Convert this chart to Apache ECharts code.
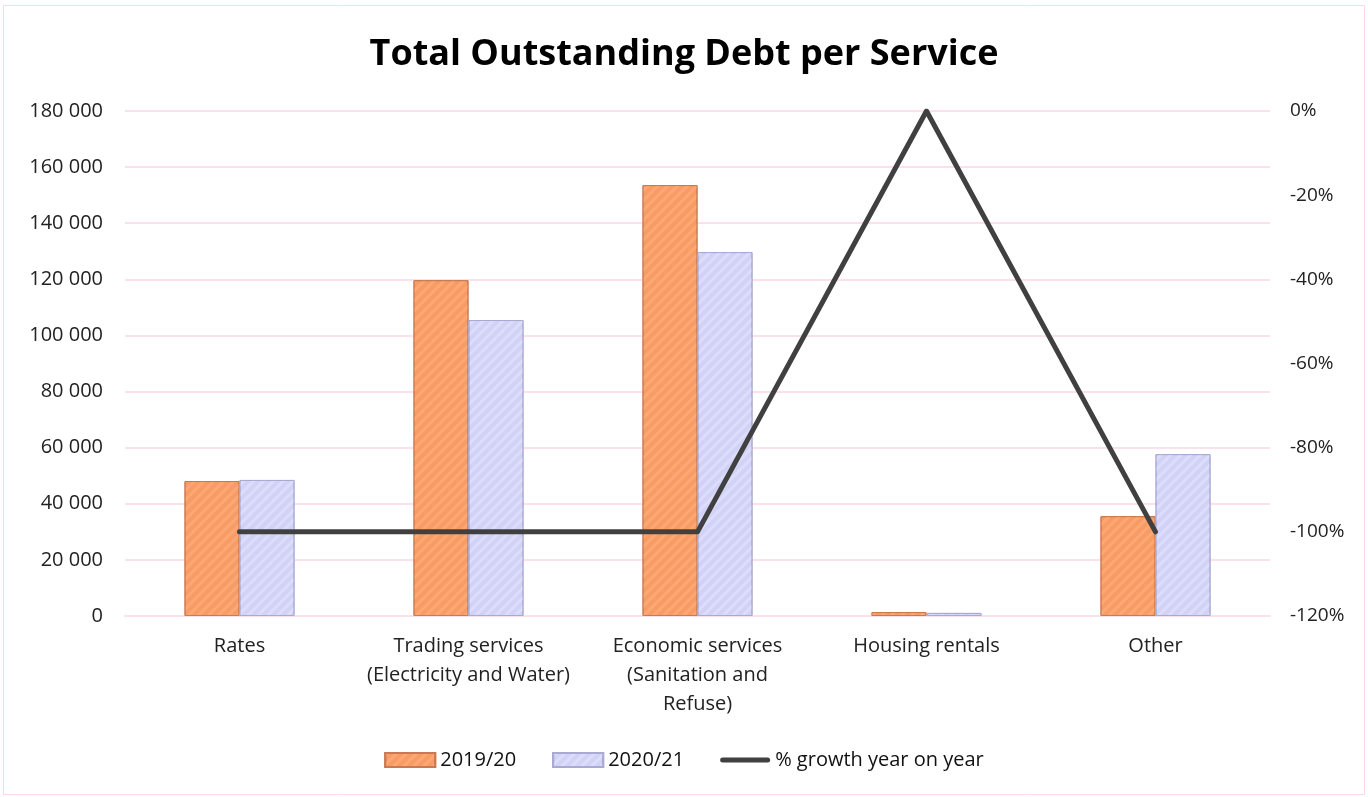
<!DOCTYPE html>
<html>
<head>
<meta charset="utf-8">
<script src="https://cdn.jsdelivr.net/npm/echarts@6/dist/echarts.min.js"></script>
<style>
html,body{margin:0;padding:0;background:#fff;}
#c{width:1368px;height:797px;}
</style>
</head>
<body>
<div id="c"></div>
<script>
const categories = ["Rates", "Trading services\n(Electricity and Water)", "Economic services\n(Sanitation and\nRefuse)", "Housing rentals", "Other"];
const debt2019 = [48100, 119700, 153600, 1400, 35600];
const debt2020 = [48500, 105500, 129700, 1100, 57700];
const growth = [-100, -100, -100, 0, -100];

const font = "Open Sans";
const chart = echarts.init(document.getElementById('c'));
const fmt = v => String(v).replace(/\B(?=(\d{3})+(?!\d))/g, ' ');

chart.setOption({
  animation: false,
  textStyle: {fontFamily: font},
  title: {
    text: "Total Outstanding Debt per Service",
    left: 'center', top: 32,
    textStyle: {fontFamily: font, fontSize: 36, fontWeight: 'bold', color: '#000'}
  },
  graphic: [{
    type: 'rect', shape: {x: 3.5, y: 5.5, width: 1361, height: 789},
    style: {fill: 'none', stroke: '#fbd9ea', lineWidth: 1}, silent: true
  }],
  legend: {
    bottom: 22, left: 'center', itemWidth: 50, itemHeight: 14, itemGap: 36,
    textStyle: {fontFamily: font, fontSize: 20, color: '#111'},
    data: [
      {name: '2019/20', icon: 'rect'},
      {name: '2020/21', icon: 'rect'},
      {name: '% growth year on year', icon: 'path://M2.5,0 L47.5,0 A2.5,2.5 0 0 1 47.5,5 L2.5,5 A2.5,2.5 0 0 1 2.5,0 Z', itemStyle: {color: '#404040'}}
    ]
  },
  grid: {left: 125, right: 98, top: 111, bottom: 181},
  xAxis: {
    type: 'category', data: categories,
    axisLine: {show: true, lineStyle: {color: '#fde0ee', width: 2}},
    axisTick: {show: false},
    axisLabel: {fontFamily: font, fontSize: 20, color: '#222', lineHeight: 29, margin: 16, interval: 0}
  },
  yAxis: [{
    type: 'value', min: 0, max: 180000, interval: 20000,
    axisLine: {show: false}, axisTick: {show: false},
    axisLabel: {fontFamily: font, fontSize: 20, color: '#222', margin: 22, formatter: v => fmt(v)},
    splitLine: {lineStyle: {color: '#fde0ee', width: 2}}
  }, {
    type: 'value', min: -120, max: 0, interval: 20,
    axisLine: {show: false}, axisTick: {show: false},
    axisLabel: {fontFamily: font, fontSize: 19, color: '#222', margin: 20, formatter: v => v + '%'},
    splitLine: {show: false}
  }],
  series: [{
    name: '2019/20', type: 'bar', data: debt2019, barWidth: 55, barGap: '0%',
    itemStyle: {
      color: '#f89c66', borderColor: '#c97a52', borderWidth: 1,
      decal: {symbol: 'rect', dashArrayX: [1, 0], dashArrayY: [3, 4], rotation: -Math.PI / 4, color: 'rgba(255,175,125,0.6)'}
    }
  }, {
    name: '2020/21', type: 'bar', data: debt2020, barWidth: 55,
    itemStyle: {
      color: '#d2d2f6', borderColor: '#a9a9d2', borderWidth: 1,
      decal: {symbol: 'rect', dashArrayX: [1, 0], dashArrayY: [3, 4], rotation: -Math.PI / 4, color: 'rgba(222,222,252,0.8)'}
    }
  }, {
    name: '% growth year on year', type: 'line', yAxisIndex: 1, data: growth,
    symbol: 'none', lineStyle: {color: '#404040', width: 5, cap: 'round', join: 'round'},
    itemStyle: {color: '#404040'}
  }]
});
</script>
</body>
</html>
